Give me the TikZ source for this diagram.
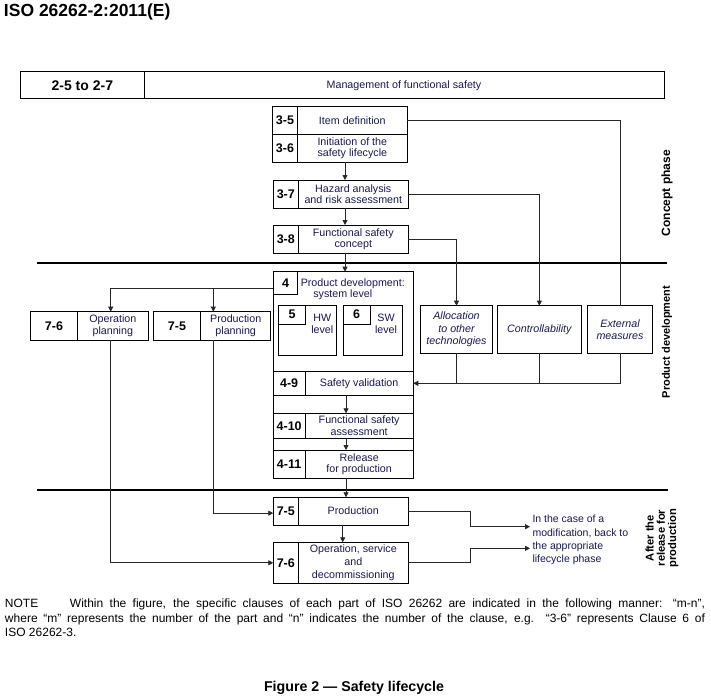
\documentclass[tikz,border=0pt]{standalone}
\usepackage{fontspec}
\setmainfont{Liberation Sans}
\usetikzlibrary{arrows.meta}
\definecolor{navy}{RGB}{25,25,80}
\newcommand{\numf}{\fontsize{12.5}{14}\selectfont\bfseries}
\newcommand{\txtf}{\fontsize{10.7}{11.6}\selectfont}
\newcommand{\itf}{\fontsize{10.7}{12.6}\selectfont\itshape}
\newcommand{\mkbox}[7]{\node[#6, minimum width={(#4-#2)*1pt}, minimum height={(#5-#3)*1pt}] (#1) at ({(#2+#4)/2},{(#3+#5)/2}) {#7};}
\tikzset{
  box/.style={draw=black, line width=1pt, inner sep=0pt, outer sep=0pt},
  numbox/.style={box, font=\numf},
  txtbox/.style={box, font=\txtf, text=navy, align=center},
  itbox/.style={box, font=\itf, text=navy, align=center},
  plain/.style={inner sep=0pt, outer sep=0pt},
  conn/.style={draw=black!85, line width=0.8pt},
  arr/.style={conn, -{Triangle[length=5pt,width=5pt]}},
  sepline/.style={draw=black, line width=2.6pt},
  vlabel/.style={plain, rotate=90, font=\bfseries\fontsize{11}{13}\selectfont},
}
\begin{document}
\begin{tikzpicture}[x=1pt,y=-1pt]
\fill[white] (0,0) rectangle (711,698);
\useasboundingbox (0,0) rectangle (711,698);

% header
\node[plain, anchor=west, font=\bfseries\fontsize{17.5}{20}\selectfont] (hdr) at (4,12) {ISO 26262-2:2011(E)};

% management bar
\mkbox{mnum}{20.7}{72}{144}{99}{box, font=\bfseries\fontsize{14}{16}\selectfont}{2-5 to 2-7}
\mkbox{mtxt}{144}{72}{664}{99}{txtbox}{Management of functional safety}

% concept phase boxes
\mkbox{n35}{272.7}{106.7}{297.3}{134.3}{numbox}{3-5}
\mkbox{t35}{297.3}{106.7}{407.3}{134.3}{txtbox}{Item definition}
\mkbox{n36}{272.7}{134.3}{297.3}{162.3}{numbox}{3-6}
\mkbox{t36}{297.3}{134.3}{407.3}{162.3}{txtbox}{Initiation of the\\safety lifecycle}
\mkbox{n37}{273.3}{180}{298.3}{208.3}{numbox}{3-7}
\mkbox{t37}{298.3}{180}{408.3}{208.3}{txtbox}{Hazard analysis\\and risk assessment}
\mkbox{n38}{273.3}{225}{298.3}{253.3}{numbox}{3-8}
\mkbox{t38}{298.3}{225}{408.3}{253.3}{txtbox}{Functional safety\\concept}

% product development
\mkbox{pd}{273.3}{271.7}{413.3}{478.3}{box}{}
\mkbox{n4}{273.3}{271.7}{297.7}{294.3}{numbox}{4}
\node[plain, font=\txtf, text=navy, align=center] (t4) at (352.8,289.2) {Product development:\\\hspace*{-20pt}system level};
\mkbox{hw}{278.3}{305}{336.7}{355}{box}{}
\mkbox{n5}{278.3}{305}{305.7}{324.3}{numbox}{5}
\node[plain, font=\txtf, text=navy, align=center] (hwt) at (322.3,324) {HW\\level};
\mkbox{sw}{343.3}{305}{402.7}{355}{box}{}
\mkbox{n6}{343.3}{305}{370}{324.3}{numbox}{6}
\node[plain, font=\txtf, text=navy, align=center] (swt) at (386,324) {SW\\level};
\mkbox{n49}{273.3}{371.7}{305}{395}{numbox}{4-9}
\mkbox{t49}{305}{371.7}{413.3}{395}{txtbox}{Safety validation}
\mkbox{n410}{273.3}{413.3}{305}{438.3}{numbox}{4-10}
\mkbox{t410}{305}{413.3}{413.3}{438.3}{txtbox}{Functional safety\\assessment}
\mkbox{n411}{273.3}{450}{305}{478.3}{numbox}{4-11}
\mkbox{t411}{305}{450}{413.3}{478.3}{txtbox}{Release\\for production}

% right-hand boxes
\mkbox{alloc}{420.7}{305.7}{492.3}{353.3}{itbox}{Allocation\\to other\\technologies}
\mkbox{ctrl}{497.7}{305.7}{581}{353.3}{itbox}{Controllability}
\mkbox{ext}{587.7}{305.7}{652.3}{353.3}{itbox}{External\\measures}

% planning boxes
\mkbox{n76p}{30.7}{311.7}{77.3}{340}{numbox}{7-6}
\mkbox{t76p}{77.3}{311.7}{148.3}{340}{txtbox}{Operation\\planning}
\mkbox{n75p}{153.3}{311.7}{200.7}{340}{numbox}{7-5}
\mkbox{t75p}{200.7}{311.7}{270.7}{340}{txtbox}{Production\\planning}

% after release boxes
\mkbox{n75b}{273.3}{497.3}{298.3}{525}{numbox}{7-5}
\mkbox{t75b}{298.3}{497.3}{408.3}{525}{txtbox}{Production}
\mkbox{n76b}{273.3}{542.3}{298.3}{583.3}{numbox}{7-6}
\mkbox{t76b}{298.3}{542.3}{408.3}{583.3}{box, font=\fontsize{10.7}{12.8}\selectfont, text=navy, align=center}{Operation, service\\and\\decommissioning}

\node[plain, anchor=west, align=left, font=\fontsize{10.5}{13.3}\selectfont, text=navy] (mod) at (532.5,540) {In the case of a\\modification, back to\\the appropriate\\lifecycle phase};

% phase separators
\draw[sepline] (37,263) -- (667,263);
\draw[sepline] (37,490) -- (668,490);

% phase labels
\node[vlabel, font=\bfseries\fontsize{12}{14}\selectfont] (lcp) at (667,193) {Concept phase};
\node[vlabel] (lpd) at (667,342) {Product development};
\node[vlabel, align=center, font=\bfseries\fontsize{11.2}{11.3}\selectfont] (lar) at (662,538) {After the\\release for\\production};

% helper coordinates
\coordinate (ax) at (345,0);
\coordinate (bx) at (346,0);
\coordinate (cx) at (342.7,0);
\coordinate (opx) at (110.7,0);
\coordinate (ppx) at (213.3,0);
\coordinate (bendx) at (470.7,0);
\coordinate (m1) at (530,526.7);
\coordinate (m2) at (530,548.3);

% main flow
\draw[arr] (t36.south -| ax) -- (t37.north -| ax);
\draw[arr] (t37.south -| ax) -- (t38.north -| ax);
\draw[arr] (t38.south -| ax) -- (pd.north -| ax);
\draw[arr] (t49.south -| bx) -- (t410.north -| bx);
\draw[arr] (t410.south -| bx) -- (t411.north -| bx);
\draw[arr] (pd.south -| bx) -- (t75b.north -| bx);
\draw[arr] (t75b.south -| cx) -- (t76b.north -| cx);

% planning
\draw[arr] ([yshift=-5.3pt]n4.west) -| (t76p.north -| opx);
\draw[arr] ([yshift=-5.3pt]n4.west) -| (t75p.north -| ppx);
\draw[arr] (t76p.south -| opx) |- (n76b.west);
\draw[arr] (t75p.south -| ppx) |- ([yshift=-2pt]n75b.west);

% right side
\draw[conn] (t35.east) -| (ext.north);
\draw[arr] (t37.east) -| (ctrl.north);
\draw[arr] (t38.east) -| (alloc.north);
\draw[arr] (ext.south) |- (t49.east);
\draw[conn] (alloc.south) -- (alloc.south |- t49.east);
\draw[conn] (ctrl.south) -- (ctrl.south |- t49.east);

% modification
\draw[arr] (t75b.east) -- (t75b.east -| bendx) |- (m1);
\draw[arr] (t76b.east) -- (t76b.east -| bendx) |- (m2);

% note and caption
\node[plain, anchor=north west, text width=700pt, align=justify, font=\fontsize{12}{14.5}\selectfont] (note) at (5,599) {\makebox[65pt][l]{NOTE}Within the figure, the specific clauses of each part of ISO 26262 are indicated in the following manner: “m-n”,\linebreak where “m” represents the number of the part and “n” indicates the number of the clause, e.g. “3-6” represents Clause 6 of\linebreak ISO 26262-3.};
\node[plain, font=\bfseries\fontsize{14.2}{16}\selectfont] (cap) at (354,688) {Figure 2 — Safety lifecycle};
\end{tikzpicture}
\end{document}
